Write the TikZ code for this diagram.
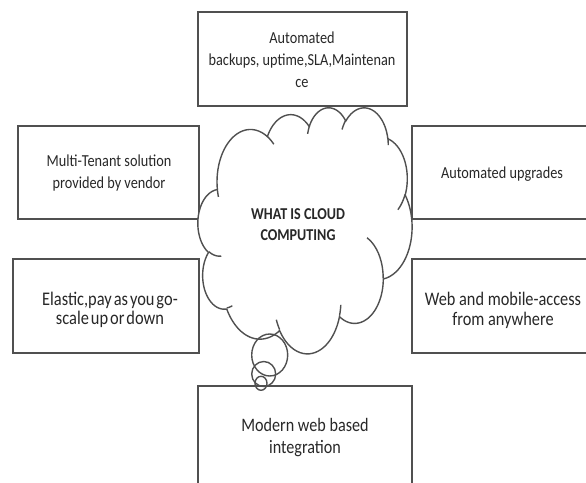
\documentclass[tikz,border=0pt]{standalone}
\usepackage{fontspec}
\setmainfont{Carlito}
\usepackage{graphicx}
\definecolor{ln}{RGB}{80,80,80}
\definecolor{tx}{RGB}{40,40,40}
\tikzset{
  box/.style={draw=ln, line width=1.4pt, fill=white, inner sep=0pt},
  lbl/.style={inner sep=0pt, text=tx},
  cloudline/.style={draw=ln, line width=1.4pt, line join=round},
}
\newcommand\sqz[4][]{{\fontsize{#2}{#3}\selectfont#1\scalebox{0.85}[1]{\begin{tabular}{@{}c@{}}#4\end{tabular}}}}
% radius of ellipse (rx,ry) at visual angle #3 -> \rr
\newcommand\ellr[3]{%
  \pgfmathsetmacro\aaa{#2*cos(#3)}%
  \pgfmathsetmacro\bbb{#1*sin(#3)}%
  \pgfmathsetmacro\rr{#1*#2/sqrt(\aaa*\aaa+\bbb*\bbb)}}
\begin{document}
\begin{tikzpicture}[x=1pt,y=-1pt]
\useasboundingbox (0,0) rectangle (586,482);
\begin{scope}
\clip (0,0) rectangle (586,482);
% boxes
\node[box, minimum width=209pt, minimum height=94pt] (top) at (302.5,59) {};
\node[box, minimum width=181pt, minimum height=93pt] (lt) at (108.5,172.5) {};
\node[box, minimum width=180pt, minimum height=93pt] (rt) at (502,172.5) {};
\node[box, minimum width=186pt, minimum height=94pt] (lb) at (106,306) {};
\node[box, minimum width=180pt, minimum height=94pt] (rb) at (502,306) {};
\node[box, minimum width=214pt, minimum height=120pt] (bt) at (305,446) {};
% texts
\node[lbl] (toptxt) at (302,60.6) {\sqz{16.8}{22}{Automated\\backups, uptime,SLA,Maintenan\\ce}};
\node[lbl] (lttxt) at (109,173) {\sqz{16.8}{22}{Multi-Tenant solution\\provided by vendor}};
\node[lbl] (rttxt) at (502,173.9) {\sqz{16.8}{22}{Automated upgrades}};
\node[lbl] (lbtxt) at (110,311.3) {\sqz[\spaceskip=0.12em]{19.3}{18.7}{Elastic,pay as you go-\\scale up or down}};
\node[lbl] (rbtxt) at (503,311) {\sqz{19.2}{20}{Web and mobile-access\\from anywhere}};
\node[lbl] (bttxt) at (305,437.6) {\sqz{19}{22}{Modern web based\\integration}};
% cloud (PowerPoint cloud geometry, units of 1/100 of 43200-box)
\begin{scope}[shift={(198,107)}, xscale=0.495370, yscale=0.569444]
\gdef\cloudpath{}
\gdef\curx{39.00}\gdef\cury{143.70}
\foreach \rx/\ry/\sa/\sw in {67.53/91.90/-190.48748/123.78053, 53.33/72.67/-144.10238/89.94523, 43.65/59.45/-145.80792/99.72302, 48.57/65.95/-130.98607/117.24173, 53.33/72.73/-78.70888/109.02692, 67.75/92.20/-46.26725/130.269, 57.85/78.67/0.62502/114.03333, 67.52/92.15/22.4516/115.17255, 77.20/105.43/66.24263/75.71102, 43.60/59.18/-274.94208/146.73557, 43.45/59.45/-246.8285/152.51885}{
  \ellr{\rx}{\ry}{\sa}
  \pgfmathsetmacro\cx{\curx-\rr*cos(\sa)}
  \pgfmathsetmacro\cy{\cury-\rr*sin(\sa)}
  \foreach \k in {1,...,30}{
    \pgfmathsetmacro\ang{\sa+\sw*\k/30}
    \ellr{\rx}{\ry}{\ang}
    \pgfmathsetmacro\qx{\cx+\rr*cos(\ang)}
    \pgfmathsetmacro\qy{\cy+\rr*sin(\ang)}
    \xdef\cloudpath{\cloudpath -- (\qx,\qy)}
    \xdef\curx{\qx}\xdef\cury{\qy}
  }
}
\draw[cloudline, fill=white] (39.00,143.70) \cloudpath -- cycle;
\gdef\stubpath{}
\foreach \sx/\sy/\rx/\ry/\sa/\sw in {46.93/261.77/43.45/59.45/86.742/26.4295, 69.28/348.99/43.60/59.18/73.61047/11.44747, 164.78/390.90/67.52/92.15/137.62415/14.0811, 288.27/347.51/67.52/92.15/6.45327/15.99835, 341.29/229.54/57.85/78.67/-70.29235/70.91737, 417.98/153.54/53.33/72.73/30.31803/27.7515, 383.24/54.26/48.57/65.95/-13.74433/14.8589, 290.78/39.52/48.57/65.95/-149.18145/18.19537, 221.41/47.20/43.65/59.45/-163.49427/17.68635, 140.00/51.92/67.53/91.90/-66.70695/12.31935, 41.27/157.89/67.53/91.90/157.65435/11.85817}{
  \ellr{\rx}{\ry}{\sa}
  \pgfmathsetmacro\cx{\sx-\rr*cos(\sa)}
  \pgfmathsetmacro\cy{\sy-\rr*sin(\sa)}
  \xdef\stubpath{\stubpath (\sx,\sy)}
  \foreach \k in {1,...,10}{
    \pgfmathsetmacro\ang{\sa+\sw*\k/10}
    \ellr{\rx}{\ry}{\ang}
    \pgfmathsetmacro\qx{\cx+\rr*cos(\ang)}
    \pgfmathsetmacro\qy{\cy+\rr*sin(\ang)}
    \xdef\stubpath{\stubpath -- (\qx,\qy)}
  }
}
\draw[cloudline] \stubpath;
\end{scope}
\node[lbl] (cloudtxt) at (298,225.3) {\sqz[\bfseries]{16.6}{21}{WHAT IS CLOUD\\COMPUTING}};
% thought bubbles
\draw[cloudline] (269.7,355) ellipse [x radius=18, y radius=21];
\draw[cloudline] (263.7,374) ellipse [x radius=12, y radius=12.5];
\draw[cloudline] (261,383.3) ellipse [x radius=6, y radius=7];
\end{scope}
\end{tikzpicture}
\end{document}
